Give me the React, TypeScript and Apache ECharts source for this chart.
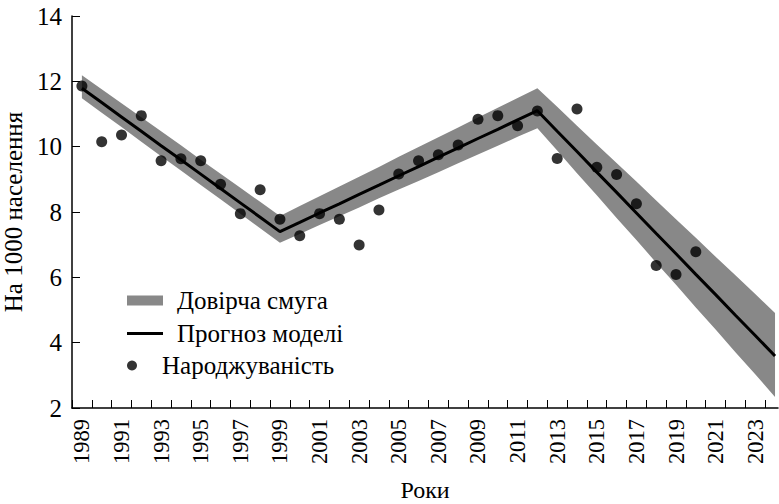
import React, { useEffect, useRef } from "react";
import * as echarts from "echarts";

// Observed birth rate per 1000 population, 1989–2020
const obsYears = [
  1989, 1990, 1991, 1992, 1993, 1994, 1995, 1996, 1997, 1998, 1999, 2000, 2001, 2002, 2003, 2004,
  2005, 2006, 2007, 2008, 2009, 2010, 2011, 2012, 2013, 2014, 2015, 2016, 2017, 2018, 2019, 2020,
];
const obsValues = [
  11.86, 10.15, 10.36, 10.95, 9.57, 9.63, 9.57, 8.85, 7.95, 8.68, 7.78, 7.27, 7.95, 7.78, 6.99, 8.06,
  9.16, 9.57, 9.75, 10.05, 10.84, 10.95, 10.64, 11.09, 9.64, 11.15, 9.37, 9.15, 8.25, 6.36, 6.09, 6.78,
];

// Model forecast and confidence band, 1989–2024
const modelYears = [
  1989, 1990, 1991, 1992, 1993, 1994, 1995, 1996, 1997, 1998, 1999, 2000, 2001, 2002, 2003, 2004,
  2005, 2006, 2007, 2008, 2009, 2010, 2011, 2012, 2013, 2014, 2015, 2016, 2017, 2018, 2019, 2020,
  2021, 2022, 2023, 2024,
];
const modelValues = [
  11.79, 11.35, 10.91, 10.47, 10.03, 9.6, 9.16, 8.72, 8.28, 7.84, 7.4, 7.68, 7.97, 8.25, 8.54, 8.82,
  9.11, 9.39, 9.68, 9.96, 10.25, 10.53, 10.82, 11.1, 10.47, 9.85, 9.22, 8.6, 7.97, 7.34, 6.72, 6.09,
  5.47, 4.84, 4.22, 3.59,
];
const upperValues = [
  12.19, 11.76, 11.33, 10.9, 10.47, 10.04, 9.6, 9.17, 8.74, 8.31, 7.88, 8.18, 8.48, 8.78, 9.08, 9.38,
  9.69, 9.99, 10.29, 10.59, 10.89, 11.19, 11.49, 11.79, 11.22, 10.64, 10.07, 9.5, 8.93, 8.35, 7.78, 7.21,
  6.63, 6.06, 5.49, 4.91,
];
const lowerValues = [
  11.48, 11.04, 10.6, 10.15, 9.71, 9.27, 8.83, 8.39, 7.95, 7.5, 7.06, 7.33, 7.6, 7.87, 8.14, 8.42,
  8.69, 8.95, 9.22, 9.49, 9.76, 10.03, 10.3, 10.56, 9.88, 9.19, 8.51, 7.82, 7.14, 6.45, 5.77, 5.08,
  4.4, 3.71, 3.03, 2.34,
];

// Axis ticks / labels
const tickPositions = Array.from({ length: 36 }, (_, i) => 1988.5 + i);
const labelYears = [
  1989, 1991, 1993, 1995, 1997, 1999, 2001, 2003, 2005, 2007, 2009, 2011, 2013, 2015, 2017, 2019,
  2021, 2023,
];

const FONT = "Times New Roman";
const BAND = "Довірча смуга";
const MODEL = "Прогноз моделі";
const OBS = "Народжуваність";

export default function App() {
  const ref = useRef<HTMLDivElement>(null);

  useEffect(() => {
    if (!ref.current) return;
    const chart = echarts.init(ref.current, null, { renderer: "svg" });

    const legendText = (pad: number) => ({
      fontFamily: FONT,
      fontSize: 25,
      color: "#000",
      padding: [0, 0, 0, pad],
    });

    chart.setOption({
      animation: false,
      backgroundColor: "#fff",
      textStyle: { fontFamily: FONT },
      grid: { left: 72, right: 1, top: 16, bottom: 96, containLabel: false, outerBoundsMode: "none" },
      legend: [
        {
          data: [{ name: BAND, icon: "rect" }],
          left: 127,
          top: 288,
          padding: 0,
          itemWidth: 36,
          itemHeight: 10,
          textStyle: legendText(9),
          selectedMode: false,
        },
        {
          data: [{ name: MODEL, icon: "rect" }],
          left: 127,
          top: 321,
          padding: 0,
          itemWidth: 36,
          itemHeight: 3,
          textStyle: legendText(9),
          selectedMode: false,
        },
        {
          data: [{ name: OBS, icon: "circle" }],
          left: 127,
          top: 353,
          padding: 0,
          itemWidth: 40,
          itemHeight: 10,
          textStyle: legendText(5),
          selectedMode: false,
        },
      ],
      xAxis: {
        type: "value",
        min: 1988.5,
        max: 2024.15,
        name: "Роки",
        nameLocation: "middle",
        nameGap: 70,
        nameTextStyle: { fontFamily: FONT, fontSize: 24, color: "#000" },
        splitLine: { show: false },
        axisLine: { show: true, lineStyle: { color: "#000", width: 1.5 } },
        axisTick: {
          show: true,
          inside: true,
          length: 8,
          customValues: tickPositions,
          lineStyle: { color: "#000", width: 1 },
        },
        axisLabel: {
          rotate: 90,
          margin: 11,
          customValues: labelYears,
          fontFamily: FONT,
          fontSize: 22.5,
          color: "#000",
          formatter: (v: number) => String(v),
        },
      },
      yAxis: {
        type: "value",
        min: 2,
        max: 14,
        interval: 2,
        name: "На 1000 населення",
        nameLocation: "middle",
        nameGap: 42,
        nameTextStyle: { fontFamily: FONT, fontSize: 25, color: "#000" },
        splitLine: { show: false },
        axisLine: { show: true, lineStyle: { color: "#000", width: 1.5 } },
        axisTick: { show: true, inside: true, length: 8, lineStyle: { color: "#000", width: 1 } },
        axisLabel: { fontFamily: FONT, fontSize: 25, color: "#000", margin: 10 },
      },
      series: [
        {
          name: BAND,
          type: "custom",
          clip: true,
          itemStyle: { color: "#888888" },
          data: modelYears.map((y, i) => [y, lowerValues[i], upperValues[i]]),
          renderItem: (params: any, api: any) => {
            if (params.dataIndex !== 0) return null;
            const pts: number[][] = [];
            for (let i = 0; i < modelYears.length; i++) pts.push(api.coord([modelYears[i], upperValues[i]]));
            for (let i = modelYears.length - 1; i >= 0; i--) pts.push(api.coord([modelYears[i], lowerValues[i]]));
            return {
              type: "polygon",
              shape: { points: pts },
              style: { fill: "#888888" },
            };
          },
          z: 1,
        },
        {
          name: MODEL,
          type: "line",
          data: modelYears.map((y, i) => [y, modelValues[i]]),
          symbol: "none",
          showSymbol: false,
          itemStyle: { color: "#000" },
          lineStyle: { color: "#000", width: 3 },
          z: 2,
        },
        {
          name: OBS,
          type: "scatter",
          data: obsYears.map((y, i) => [y, obsValues[i]]),
          symbol: "circle",
          symbolSize: 11,
          itemStyle: { color: "#000" },
          z: 3,
        },
      ],
    });

    return () => chart.dispose();
  }, []);

  return (
    <div
      ref={ref}
      style={{ position: "fixed", left: 0, top: 0, width: 779, height: 504, background: "#fff" }}
    />
  );
}
